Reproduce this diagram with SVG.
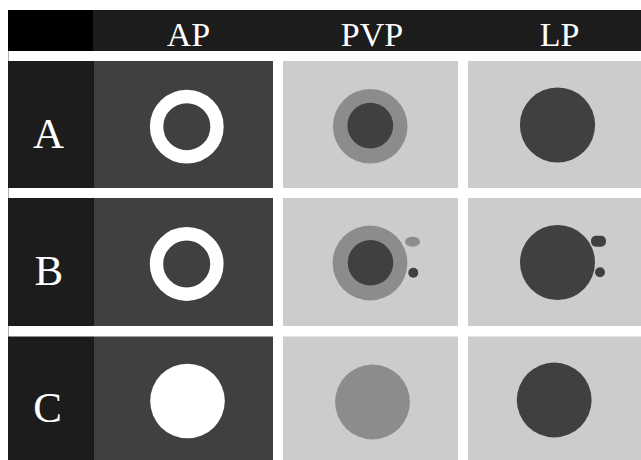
<svg xmlns="http://www.w3.org/2000/svg" width="641" height="460" viewBox="0 0 641 460">
  <style>
    .hdr { fill: #1c1c1c; }
    .lbl { fill: #1c1c1c; }
    .ap { fill: #404040; }
    .lt { fill: #cccccc; }
    .white { fill: #ffffff; }
    .mid { fill: #8c8c8c; }
    .dark { fill: #404040; }
    .ring { fill: none; stroke: #ffffff; stroke-width: 13.4; }
    .t { font-family: "Liberation Serif", "Times New Roman", serif; fill: #ffffff; text-anchor: middle; }
    .th { font-size: 34px; }
    .tr { font-size: 43px; }
  </style>
  <rect width="641" height="460" fill="#ffffff"/>
  <line x1="8.5" y1="10" x2="8.5" y2="460" stroke="#b0b0b0" stroke-width="1"/>

  <!-- header row -->
  <g id="header">
    <rect class="hdr" x="8" y="10" width="633" height="41"/>
    <rect x="8" y="10" width="85" height="41" fill="#000000"/>
    <text class="t th" x="188.5" y="45.5">AP</text>
    <text class="t th" x="372" y="45.5">PVP</text>
    <text class="t th" x="559.5" y="45.5">LP</text>
  </g>

  <!-- row A -->
  <g id="row-a-label">
    <rect class="lbl" x="8" y="61" width="86" height="127"/>
    <text class="t tr" x="48.5" y="147.5">A</text>
  </g>
  <g id="a-ap">
    <rect class="ap" x="94" y="61" width="179" height="127"/>
    <circle class="ring" cx="186.8" cy="126.7" r="30.2"/>
  </g>
  <g id="a-pvp">
    <rect class="lt" x="283" y="61" width="175" height="127"/>
    <circle class="mid" cx="370.2" cy="126.3" r="37.3"/>
    <circle class="dark" cx="370.3" cy="125.6" r="22.9"/>
  </g>
  <g id="a-lp">
    <rect class="lt" x="468" y="61" width="173" height="127"/>
    <circle class="dark" cx="557.5" cy="125" r="37.6"/>
  </g>

  <!-- row B -->
  <g id="row-b-label">
    <rect class="lbl" x="8" y="198" width="86" height="128"/>
    <text class="t tr" x="48.8" y="285">B</text>
  </g>
  <g id="b-ap">
    <rect class="ap" x="94" y="198" width="179" height="128"/>
    <circle class="ring" cx="186.7" cy="264" r="30.2"/>
  </g>
  <g id="b-pvp">
    <rect class="lt" x="283" y="198" width="175" height="128"/>
    <circle class="mid" cx="370" cy="263" r="37.4"/>
    <circle class="dark" cx="370.5" cy="262.8" r="22.8"/>
    <ellipse class="mid" cx="412.5" cy="241.7" rx="7.5" ry="5"/>
    <circle class="dark" cx="413.3" cy="272.7" r="5"/>
  </g>
  <g id="b-lp">
    <rect class="lt" x="468" y="198" width="173" height="128"/>
    <circle class="dark" cx="557.5" cy="262.5" r="37.5"/>
    <rect class="dark" x="591" y="235.7" width="15" height="11" rx="5"/>
    <circle class="dark" cx="600" cy="272.3" r="5"/>
  </g>

  <!-- row C -->
  <g id="row-c-label">
    <rect class="lbl" x="8" y="336.5" width="86" height="123.5"/>
    <text class="t tr" x="47.5" y="422">C</text>
  </g>
  <g id="c-ap">
    <rect class="ap" x="94" y="336.5" width="179" height="123.5"/>
    <circle class="white" cx="187.5" cy="401" r="37.3"/>
  </g>
  <g id="c-pvp">
    <rect class="lt" x="283" y="336.5" width="175" height="123.5"/>
    <circle class="mid" cx="372.5" cy="402" r="37.4"/>
  </g>
  <g id="c-lp">
    <rect class="lt" x="468" y="336.5" width="173" height="123.5"/>
    <circle class="dark" cx="554.2" cy="400" r="37.4"/>
  </g>

  <g id="connectors"/>
</svg>
